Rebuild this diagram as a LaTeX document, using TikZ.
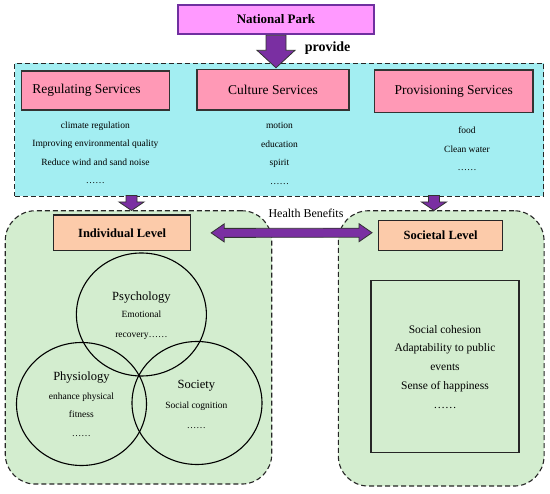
\documentclass[tikz,border=0pt]{standalone}
\usepackage{fontspec}
\setmainfont{Liberation Serif}
\usetikzlibrary{calc,positioning,shapes.geometric}
\definecolor{parkfill}{HTML}{FF99FF}
\definecolor{parkline}{HTML}{7030A0}
\definecolor{arrowfill}{HTML}{7A2FA2}
\definecolor{servfill}{HTML}{A3EEF2}
\definecolor{pinkfill}{HTML}{FF99B6}
\definecolor{peachfill}{HTML}{FCCBAA}
\definecolor{greenfill}{HTML}{D3EDCF}
\newcommand{\fs}[2]{\fontsize{#1}{#2}\selectfont}

\begin{document}
\begin{tikzpicture}[x=1pt,y=-1pt,
  titlebox/.style={draw=black!80,line width=1.3pt,fill=pinkfill,inner sep=0pt,font=\fs{13.5}{16}},
  levelbox/.style={draw=black!85,line width=1.3pt,fill=peachfill,inner sep=0pt,font=\bfseries\fs{12.5}{15}},
  groupbox/.style={draw=black!85,line width=1.1pt,dash pattern=on 5pt off 3pt,fill=greenfill,rounded corners=30pt,inner sep=0pt},
  itemlist/.style={align=center,inner sep=0pt,font=\fs{9.5}{18.5}},
  venn/.style={ellipse,draw=black,line width=1.1pt,minimum width=130pt,minimum height=123pt,inner sep=0pt},
  blockarrow/.style={draw=black!80,line width=0.8pt,fill=arrowfill,line join=miter}]
  \useasboundingbox (0,0) rectangle (550,494);

  \node[draw=black!85,line width=1.1pt,dash pattern=on 5pt off 3pt,fill=servfill,
        minimum width=529pt,minimum height=133pt,inner sep=0pt] (services) at (279.2,130) {};
  \node[groupbox,minimum width=266.5pt,minimum height=273.3pt] (indiv) at (138.5,347.4) {};
  \node[groupbox,minimum width=205.7pt,minimum height=275.3pt] (societal) at (441.2,348.4) {};

  \node[draw=parkline,line width=2pt,fill=parkfill,inner sep=0pt,minimum width=196pt,
        minimum height=29.6pt,font=\bfseries\fs{13}{15}] (park) at (276,19.5) {National Park};
  \draw[blockarrow] ($(park.south)+(-10,0)$) -- ++(0,15) -- ++(-9,0) -- ($(park.south)+(0,32.5)$)
     -- ($(park.south)+(19,15)$) -- ++(-9,0) -- ($(park.south)+(10,0)$) -- cycle;
  \node[font=\bfseries\fs{14}{16}] (provide) at (327.6,48) {provide};

  \node[titlebox,minimum width=147.7pt,minimum height=39pt] (reg) at (95.5,90.5) {Regulating Services\hspace*{18pt}};
  \node[titlebox,minimum width=152pt,minimum height=40.7pt] (cul) at (273,89.7) {Culture Services};
  \node[titlebox,minimum width=158.4pt,minimum height=42.3pt] (pro) at (453.8,91.2) {Provisioning Services};

  \node[itemlist] (reglist) at (95.4,152.7)
     {climate regulation\\Improving environmental quality\\Reduce wind and sand noise\\……};
  \node[itemlist] (cullist) at (279.5,153.5) {motion\\education\\spirit\\……};
  \node[itemlist] (prolist) at (467,149) {food\\Clean water\\……};

  \coordinate (ra) at (131.5,195.5);
  \coordinate (rb) at (434,195.5);
  \foreach \c in {ra,rb}
    \draw[blockarrow] ($(\c)+(-5.5,0)$) -- ++(0,6.5) -- ++(-7,0) -- ($(\c)+(0,15)$)
       -- ($(\c)+(12.5,6.5)$) -- ++(-7,0) -- ($(\c)+(5.5,0)$) -- cycle;

  \node[levelbox,minimum width=136.8pt,minimum height=35.7pt] (indlevel) at (122.1,232.9) {Individual Level};
  \node[levelbox,minimum width=124pt,minimum height=30pt] (soclevel) at (440.7,235.7) {Societal Level};

  \node[font=\fs{12}{14}] (health) at (306,213.3) {Health Benefits};
  \coordinate (hb1) at ($(indlevel.east)+(20,0)$);
  \coordinate (hb2) at ($(soclevel.west)+(-6,-3)$);
  \draw[blockarrow] (hb1) -- ($(hb1)+(13,-9)$) -- ($(hb1)+(13,-4.5)$) -- ($(hb2)+(-13,-4.5)$)
     -- ($(hb2)+(-13,-9)$) -- (hb2) -- ($(hb2)+(-13,9)$) -- ($(hb2)+(-13,4.5)$)
     -- ($(hb1)+(13,4.5)$) -- ($(hb1)+(13,9)$) -- cycle;

  \node[venn] (psy) at (141.4,314.5) {};
  \node[venn] (phy) at (81.5,404) {};
  \node[venn] (sco) at (197,403) {};

  \node[font=\fs{12.5}{15}] (psyt) at (141.4,297.3) {Psychology};
  \node[itemlist,font=\fs{9.5}{19.3}] (psyd) at (141.4,325.3) {Emotional\\recovery……};
  \node[font=\fs{12.5}{15}] (phyt) at (81.4,377.3) {Physiology};
  \node[itemlist] (phyd) at (81.4,414.7) {enhance physical\\fitness\\……};
  \node[font=\fs{12.5}{15}] (scot) at (196.4,386) {Society};
  \node[itemlist,font=\fs{9.5}{20}] (scod) at (196.4,415) {Social cognition\\……};

  \node[draw=black!85,line width=1.3pt,minimum width=148pt,minimum height=172pt,inner sep=0pt,
        align=center,font=\fs{11.5}{18.7}] (socbox) at (445,366.7)
     {Social cohesion\\Adaptability to public\\events\\Sense of happiness\\……\hspace*{0pt}};
\end{tikzpicture}
\end{document}
